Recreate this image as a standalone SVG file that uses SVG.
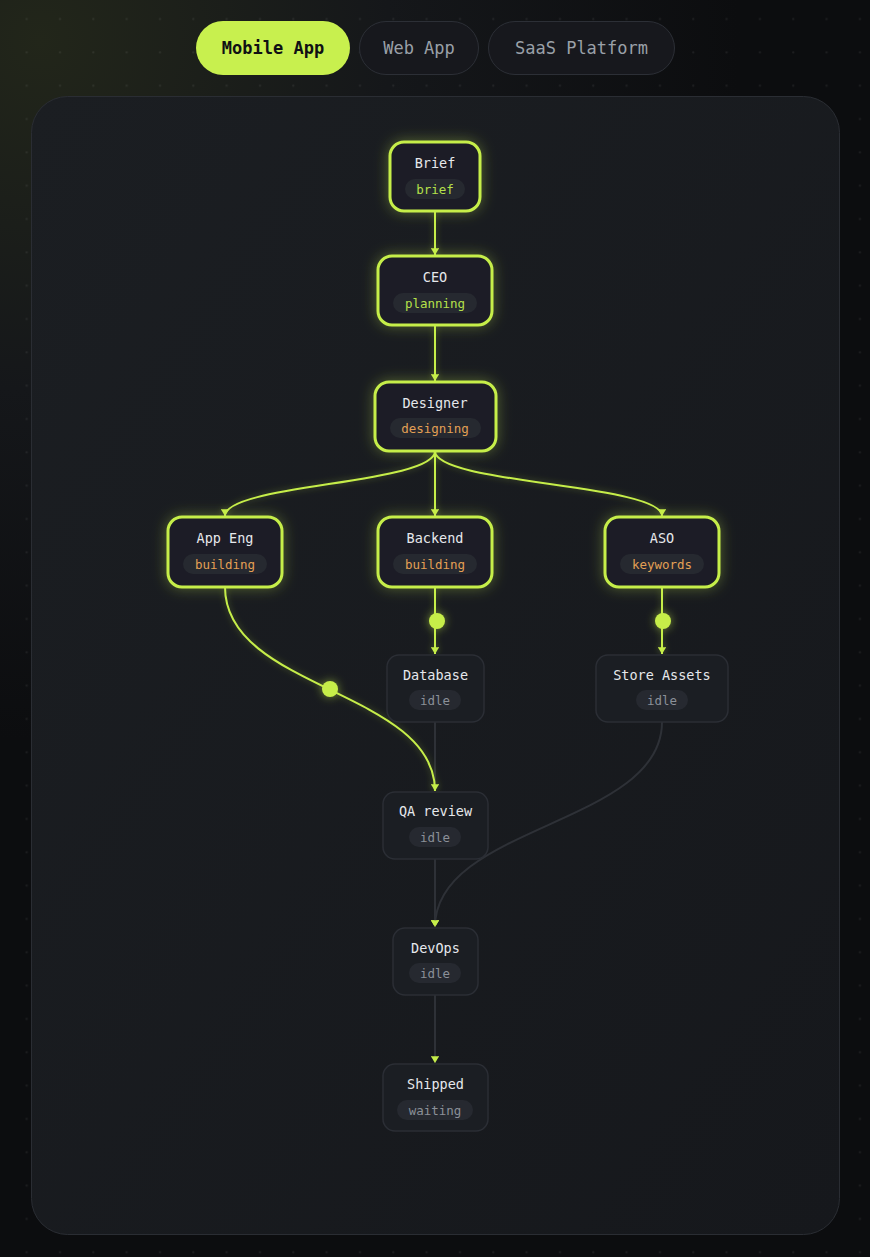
<svg xmlns="http://www.w3.org/2000/svg" width="870" height="1257" viewBox="0 0 870 1257">
<defs>
<radialGradient id="bgGlow" cx="0" cy="0" r="1" gradientUnits="userSpaceOnUse" gradientTransform="translate(40 40) scale(700 700)">
<stop offset="0" stop-color="#22261a"/>
<stop offset="0.5" stop-color="#15171a"/>
<stop offset="1" stop-color="#0c0d0f"/>
</radialGradient>
<linearGradient id="panelFill" x1="0" y1="0" x2="1" y2="1">
<stop offset="0" stop-color="#1b1e22"/>
<stop offset="1" stop-color="#16181c"/>
</linearGradient>
<pattern id="dots" x="0" y="0" width="33.33" height="33.33" patternUnits="userSpaceOnUse">
<circle cx="26.67" cy="19" r="1.1" fill="#ffffff" fill-opacity="0.07"/>
</pattern>
<filter id="glow" x="-50%" y="-50%" width="200%" height="200%">
<feDropShadow dx="0" dy="0" stdDeviation="7" flood-color="#c6ee4a" flood-opacity="0.35"/>
</filter>
<filter id="dotglow" x="-150%" y="-150%" width="400%" height="400%">
<feDropShadow dx="0" dy="0" stdDeviation="5" flood-color="#c6ee4a" flood-opacity="0.55"/>
</filter>
<filter id="lineglow" x="-20%" y="-20%" width="140%" height="140%">
<feDropShadow dx="0" dy="0" stdDeviation="3" flood-color="#c6ee4a" flood-opacity="0.35"/>
</filter>
<marker id="arr" viewBox="0 0 8 10" refX="8" refY="5" markerWidth="7" markerHeight="8.5" markerUnits="userSpaceOnUse" orient="auto">
<path d="M0,0 L8,5 L0,10 Z" fill="#c6ee4a"/>
</marker>
</defs>
<style>
.tab{font-family:"DejaVu Sans Mono","Liberation Mono",monospace;font-size:17px;text-anchor:middle;dominant-baseline:central}
.title{font-family:"DejaVu Sans Mono","Liberation Mono",monospace;font-size:13.5px;fill:#e6e8ec;text-anchor:middle;dominant-baseline:central}
.st{font-family:"DejaVu Sans Mono","Liberation Mono",monospace;font-size:12.5px;text-anchor:middle;dominant-baseline:central}
.on rect.box{fill:#1c1f26;stroke:#c6ee4a;stroke-width:3}
.off rect.box{fill:#1b1e23;stroke:#2b2e35;stroke-width:1.5}
.pill{fill:#262930}
.lime{fill:#b5e04a}
.orange{fill:#e3a055}
.gray{fill:#8b9098}
.eon{fill:none;stroke:#c6ee4a;stroke-width:2}
.eoff{fill:none;stroke:#2e3137;stroke-width:2}
</style>
<rect width="870" height="1257" fill="url(#bgGlow)"/>
<rect width="870" height="1257" fill="url(#dots)"/>

<g id="tabs">
<rect x="196" y="21" width="154" height="54" rx="27" fill="#c8f04e"/>
<text class="tab" x="273" y="48" fill="#101114" font-weight="bold">Mobile App</text>
<rect x="359.5" y="21.5" width="119" height="53" rx="26.5" fill="#17181d" stroke="#2c2f36"/>
<text class="tab" x="419" y="48" fill="#9aa0a8">Web App</text>
<rect x="488.5" y="21.5" width="186" height="53" rx="26.5" fill="#17181d" stroke="#2c2f36"/>
<text class="tab" x="581.5" y="48" fill="#9aa0a8">SaaS Platform</text>
</g>

<rect id="panel" x="31.5" y="96.5" width="808" height="1138" rx="36" fill="url(#panelFill)" stroke="#2a2d33" stroke-width="1"/>

<g id="connectors">
<path class="eoff" d="M435,722 L435,790"/>
<path class="eoff" d="M435,859 L435,927" marker-end="url(#arr)"/>
<path class="eoff" d="M662,722 C662,825 435,825 435,927" marker-end="url(#arr)"/>
<path class="eoff" d="M435,995 L435,1063" marker-end="url(#arr)"/>
<g filter="url(#lineglow)">
<path class="eon" d="M435,211 L435,255" marker-end="url(#arr)"/>
<path class="eon" d="M435,325 L435,381" marker-end="url(#arr)"/>
<path class="eon" d="M435,451 C435,484 225,484 225,516" marker-end="url(#arr)"/>
<path class="eon" d="M435,451 L435,516" marker-end="url(#arr)"/>
<path class="eon" d="M435,451 C435,484 662,484 662,516" marker-end="url(#arr)"/>
<path class="eon" d="M435,587 L435,654" marker-end="url(#arr)"/>
<path class="eon" d="M662,587 L662,654" marker-end="url(#arr)"/>
<path class="eon" d="M225,587 C225,690 435,690 435,791" marker-end="url(#arr)"/>
</g>
<g filter="url(#dotglow)" fill="#c6ee4a">
<circle cx="437" cy="621" r="8"/>
<circle cx="663" cy="621" r="8"/>
<circle cx="330" cy="689" r="8"/>
</g>
</g>

<g id="node-brief" class="on">
<rect class="box" x="390" y="142" width="90" height="69" rx="14" filter="url(#glow)"/>
<text class="title" x="435" y="163">Brief</text>
<rect class="pill" x="405" y="179" width="60" height="20" rx="10"/>
<text class="st lime" x="435" y="189">brief</text>
</g>
<g id="node-ceo" class="on">
<rect class="box" x="378" y="256" width="114" height="69" rx="14" filter="url(#glow)"/>
<text class="title" x="435" y="277">CEO</text>
<rect class="pill" x="393" y="293" width="84" height="20" rx="10"/>
<text class="st lime" x="435" y="303">planning</text>
</g>
<g id="node-designer" class="on">
<rect class="box" x="375" y="382" width="121" height="69" rx="14" filter="url(#glow)"/>
<text class="title" x="435" y="403">Designer</text>
<rect class="pill" x="390" y="418" width="91" height="20" rx="10"/>
<text class="st orange" x="435" y="428">designing</text>
</g>
<g id="node-appeng" class="on">
<rect class="box" x="168" y="517" width="114" height="70" rx="14" filter="url(#glow)"/>
<text class="title" x="225" y="538">App Eng</text>
<rect class="pill" x="183" y="554" width="84" height="20" rx="10"/>
<text class="st orange" x="225" y="564">building</text>
</g>
<g id="node-backend" class="on">
<rect class="box" x="378" y="517" width="114" height="70" rx="14" filter="url(#glow)"/>
<text class="title" x="435" y="538">Backend</text>
<rect class="pill" x="393" y="554" width="84" height="20" rx="10"/>
<text class="st orange" x="435" y="564">building</text>
</g>
<g id="node-aso" class="on">
<rect class="box" x="605" y="517" width="114" height="70" rx="14" filter="url(#glow)"/>
<text class="title" x="662" y="538">ASO</text>
<rect class="pill" x="620" y="554" width="84" height="20" rx="10"/>
<text class="st orange" x="662" y="564">keywords</text>
</g>
<g id="node-database" class="off">
<rect class="box" x="387" y="655" width="97" height="67" rx="12"/>
<text class="title" x="435.5" y="675">Database</text>
<rect class="pill" x="409" y="690" width="52" height="20" rx="10"/>
<text class="st gray" x="435" y="700">idle</text>
</g>
<g id="node-storeassets" class="off">
<rect class="box" x="596" y="655" width="132" height="67" rx="12"/>
<text class="title" x="662" y="675">Store Assets</text>
<rect class="pill" x="636" y="690" width="52" height="20" rx="10"/>
<text class="st gray" x="662" y="700">idle</text>
</g>
<g id="node-qa" class="off">
<rect class="box" x="383" y="792" width="105" height="67" rx="12"/>
<text class="title" x="435.5" y="811">QA review</text>
<rect class="pill" x="409" y="827" width="52" height="20" rx="10"/>
<text class="st gray" x="435" y="837">idle</text>
</g>
<g id="node-devops" class="off">
<rect class="box" x="393" y="928" width="85" height="67" rx="12"/>
<text class="title" x="435.5" y="948">DevOps</text>
<rect class="pill" x="409" y="963" width="52" height="20" rx="10"/>
<text class="st gray" x="435" y="973">idle</text>
</g>
<g id="node-shipped" class="off">
<rect class="box" x="383" y="1064" width="105" height="67" rx="12"/>
<text class="title" x="435.5" y="1084">Shipped</text>
<rect class="pill" x="397" y="1100" width="76" height="20" rx="10"/>
<text class="st gray" x="435" y="1110">waiting</text>
</g>
</svg>
